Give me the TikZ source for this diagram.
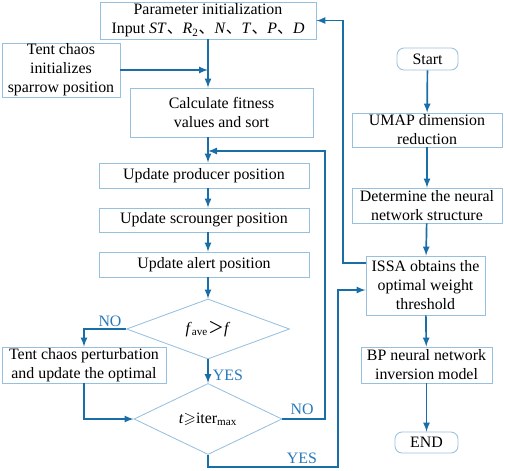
\documentclass[tikz,border=0pt]{standalone}
\usepackage{fontspec}
\usepackage{amssymb}
\setmainfont{Liberation Serif}
\newfontfamily\cjk{Noto Sans CJK SC}
\usetikzlibrary{arrows,shapes.geometric}
\definecolor{linkblue}{RGB}{26,110,168}
\definecolor{boxblue}{RGB}{150,192,222}
\definecolor{labelblue}{RGB}{40,120,185}
\newcommand{\dun}{{\cjk 、}}
\newcommand{\boxfont}{\fontsize{11.3}{13.5}\selectfont}

\begin{document}
\begin{tikzpicture}[>=latex, x=0.025cm, y=-0.025cm,
  sz/.style 2 args={minimum width=#1*0.025cm, minimum height=#2*0.025cm},
  box/.style={draw=boxblue, line width=0.6pt, inner sep=0pt, align=center, font=\boxfont},
  term/.style={box, rounded corners=5pt},
  test/.style={box, diamond},
  link/.style={->, draw=linkblue, line width=1.2pt},
  yn/.style={text=labelblue, font=\boxfont}]
 \useasboundingbox (0,0) rectangle (505,470);
 % left column
 \node [box, sz={216}{37}] (param) at (208,20.5)
   {Parameter initialization\\Input \textit{ST}\dun\textit{R}\textsubscript{2}\dun\textit{N}\dun\textit{T}\dun\textit{P}\dun\textit{D}};
 \node [box, sz={118}{54}] (tent) at (61,70) {Tent chaos\\initializes\\sparrow position};
 \node [box, sz={183}{49}] (calc) at (221.5,112.5) {Calculate fitness\\values and sort};
 \node [box, sz={210}{25}] (prod) at (204,175.5) {Update producer position};
 \node [box, sz={210}{24}] (scro) at (204,220) {Update scrounger position};
 \node [box, sz={210}{25}] (alert) at (204,264.5) {Update alert position};
 \node [test, sz={163}{34}] (fit) at (208,329) {\textit{f}\textsubscript{ave}{\cjk ＞}\textit{f}};
 \node [box, sz={164}{36}] (pert) at (84,365) {Tent chaos perturbation\\and update the optimal};
 \node [test, sz={148}{40}] (iter) at (208,419) {\textit{t}$\geqslant$iter\textsubscript{max}};
 % right column
 \node [term, sz={61}{22}] (start) at (427.5,59) {Start};
 \node [box, sz={150}{34}] (umap) at (427,130) {UMAP dimension\\reduction};
 \node [box, sz={150}{35}] (struct) at (427,205.5) {Determine the neural\\network structure};
 \node [box, sz={119}{59}] (issa) at (425.5,285.5) {ISSA obtains the\\optimal weight\\threshold};
 \node [box, sz={131}{36}] (bp) at (426.5,365) {BP neural network\\inversion model};
 \node [term, sz={63}{21}] (end) at (426.5,442.5) {END};
 % turning points
 \coordinate (loop) at (325,151);
 \coordinate (out) at (338,467);
 \coordinate (in) at (338,290);
 \coordinate (back) at (343,263);
 %
 \draw [link] (param.south) -- (param.south |- calc.north);
 \draw [link] (tent.east) -- (param.south |- tent.east);
 \draw [link] (param.south |- calc.south) -- (param.south |- prod.north);
 \draw [link] (param.south |- prod.south) -- (param.south |- scro.north);
 \draw [link] (param.south |- scro.south) -- (param.south |- alert.north);
 \draw [link] (param.south |- alert.south) -- (fit.north);
 \draw [link] (fit.west) -| (pert.north);
 \draw [link] (fit.south) -- (iter.north);
 \draw [link] (pert.south) |- (iter.west);
 \draw [link] (iter.east) -| (loop) -- (param.south |- loop);
 \draw [link] (iter.south) |- (out) -- (in) -- (in -| issa.west);
 %
 \draw [link] (start) -- (umap);
 \draw [link] (umap) -- (struct);
 \draw [link] (struct) -- (issa);
 \draw [link] (issa) -- (bp);
 \draw [link] (bp) -- (end);
 \draw [link] (back -| issa.west) -- (back) |- (param.east);
 % labels
 \node [yn] (no1) at (110,321) {NO};
 \node [yn] (yes1) at (228,375) {YES};
 \node [yn] (no2) at (302,409) {NO};
 \node [yn] (yes2) at (302,458) {YES};
\end{tikzpicture}
\end{document}
